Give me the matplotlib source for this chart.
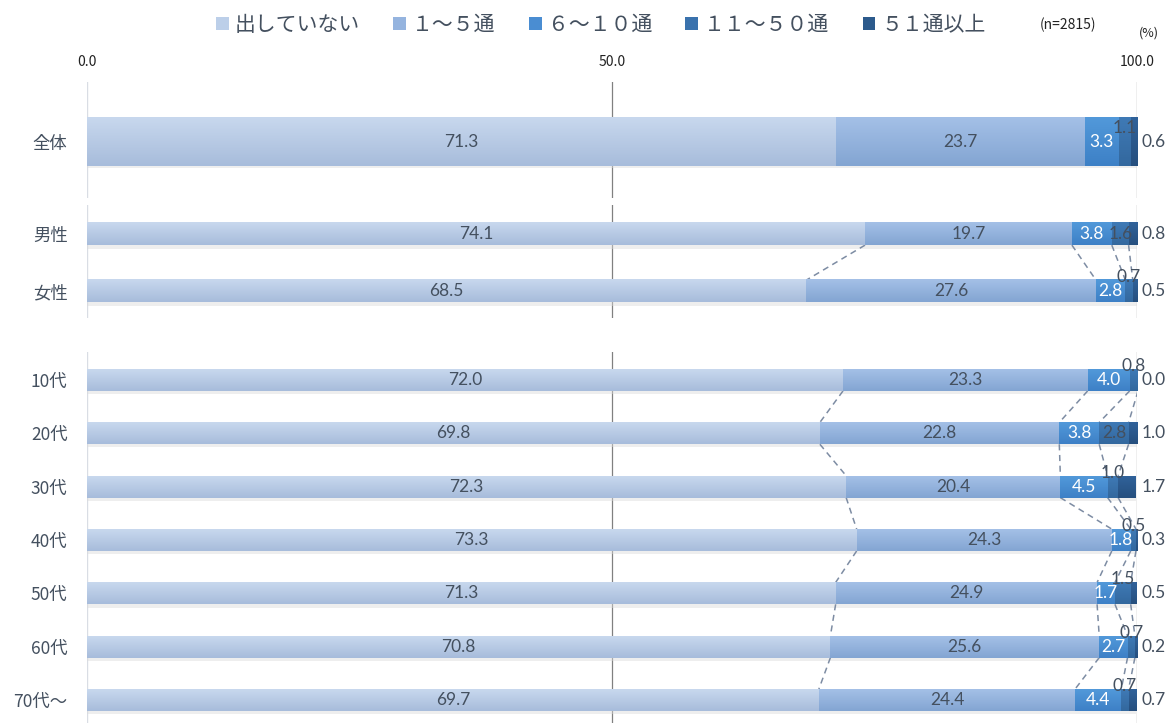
import numpy as np
import matplotlib
matplotlib.use("Agg")
import matplotlib.pyplot as plt
from matplotlib.colors import LinearSegmentedColormap
from matplotlib.patches import Patch

plt.rcParams['font.family'] = ['Noto Sans CJK JP', 'DejaVu Sans']

# データ
series_names = ["出していない", "１～５通", "６～１０通", "１１～５０通", "５１通以上"]

cats_total = ["全体"]
vals_total = [[71.3, 23.7, 3.3, 1.1, 0.6]]

cats_sex = ["男性", "女性"]
vals_sex = [[74.1, 19.7, 3.8, 1.6, 0.8],
            [68.5, 27.6, 2.8, 0.7, 0.5]]

cats_age = ["10代", "20代", "30代", "40代", "50代", "60代", "70代～"]
vals_age = [[72.0, 23.3, 4.0, 0.8, 0.0],
            [69.8, 22.8, 3.8, 2.8, 1.0],
            [72.3, 20.4, 4.5, 1.0, 1.7],
            [73.3, 24.3, 1.8, 0.5, 0.3],
            [71.3, 24.9, 1.7, 1.5, 0.5],
            [70.8, 25.6, 2.7, 0.7, 0.2],
            [69.7, 24.4, 4.4, 0.7, 0.7]]

n_label = "(n=2815)"
xticks = [0, 50, 100]

# 色 (上 -> 下のグラデーション)
grad = [("#c8d8ee", "#a7bcdb"),
        ("#a4c0e7", "#83a5d2"),
        ("#5299da", "#3d80c6"),
        ("#3f7ab6", "#33689e"),
        ("#30629a", "#264f7e")]
solid = ["#bccfe9", "#95b4df", "#4a8dd2", "#3a72ad", "#2c5a8c"]
txt_col = "#44505f"
line_col = "#7d8ca3"
num_font = ["Lato", "DejaVu Sans"]

W, H = 1176, 723
fig = plt.figure(figsize=(W / 100, H / 100), dpi=100)

x0, x1 = 87, 1137


def make_ax(top_px, bot_px):
    return fig.add_axes([x0 / W, 1 - bot_px / H, (x1 - x0) / W, (bot_px - top_px) / H])


def draw_panel(ax, cats, vals, ylim, h, show_lines):
    vals = np.array(vals)
    n = len(cats)
    y = np.arange(n)
    left = np.zeros(n)
    cum = np.cumsum(vals, axis=1)
    # 影
    ax.barh(y + (0.06 if h < 0.6 else 0.035), vals.sum(axis=1), height=h, left=0,
            color="#dadada", alpha=0.45, zorder=1)
    for k in range(vals.shape[1]):
        bars = ax.barh(y, vals[:, k], left=left, height=h, color=solid[k], zorder=2)
        cmap = LinearSegmentedColormap.from_list("g%d" % k, grad[k])
        for r in bars:
            bx, by, bw, bh = r.get_x(), r.get_y(), r.get_width(), r.get_height()
            if bw <= 0:
                continue
            ax.imshow(np.linspace(0, 1, 64).reshape(-1, 1), extent=(bx, bx + bw, by + bh, by),
                      origin="upper", cmap=cmap, aspect="auto", zorder=3)
        left = left + vals[:, k]

    # 数値ラベル
    kw = dict(fontsize=12.5, family=num_font, zorder=5)
    for i in range(n):
        starts = np.concatenate([[0], cum[i, :-1]])
        for k in range(vals.shape[1]):
            v = vals[i, k]
            cx = starts[k] + v / 2
            label = f"{v:.1f}"
            if k < 2:
                ax.text(cx, i, label, ha="center", va="center", color=txt_col, **kw)
            elif k == 2:
                ax.text(cx, i, label, ha="center", va="center", color="white", **kw)
            elif k == 3:
                if v >= 1.55:
                    ax.text(cx, i, label, ha="center", va="center", color=txt_col, **kw)
                else:
                    ax.annotate(label, (cx, i), xytext=(0, 10), textcoords="offset points",
                                ha="center", va="center", color=txt_col, **kw)
            else:
                ax.text(101.6, i, label, ha="center", va="center", color=txt_col,
                        clip_on=False, **kw)

    # 区分線
    if show_lines:
        for i in range(n - 1):
            for k in range(4):
                ax.plot([cum[i, k], cum[i + 1, k]], [i + h / 2, i + 1 - h / 2],
                        ls=(0, (4, 3)), lw=1.1, color=line_col, zorder=1.5)

    ax.axvline(0, color="#d9dde4", lw=1, zorder=0)
    for xv in (50, 100):
        ax.axvline(xv, color="#808080", lw=0.9, zorder=0)
    ax.set_xlim(0, 100)
    ax.set_ylim(*ylim)
    ax.set_yticks(y)
    ax.set_yticklabels(cats, fontsize=12.5, color=txt_col)
    ax.tick_params(axis="y", length=0, pad=14)
    ax.set_xticks([])
    for s in ax.spines.values():
        s.set_visible(False)
    ax.patch.set_alpha(0)


ax1 = make_ax(82, 198)
draw_panel(ax1, cats_total, vals_total, (0.93, -1.0), 0.8, False)
ax1.xaxis.tick_top()
ax1.set_xticks(xticks)
ax1.set_xticklabels([f"{t:.1f}" for t in xticks], fontsize=10, color="#222222")
ax1.tick_params(axis="x", length=0, pad=9)

ax2 = make_ax(205, 318)
draw_panel(ax2, cats_sex, vals_sex, (1.47, -0.51), 0.386, True)

ax3 = make_ax(352, 723)
draw_panel(ax3, cats_age, vals_age, (6.43, -0.525), 0.41, True)

# 凡例
handles = [Patch(facecolor=solid[k], edgecolor="none") for k in range(5)]
fig.legend(handles, series_names, loc="center", bbox_to_anchor=(601 / W, 1 - 25 / H),
           ncol=5, frameon=False, fontsize=15, handlelength=0.6, handleheight=0.6,
           handletextpad=0.3, columnspacing=1.6, labelcolor=txt_col)

fig.text(1068 / W, 1 - 25 / H, n_label, ha="center", va="center", fontsize=10, color="#222222")
fig.text(1149 / W, 1 - 33 / H, "(%)", ha="center", va="center", fontsize=9, color="#222222")

fig.savefig("out.png", dpi=100)
